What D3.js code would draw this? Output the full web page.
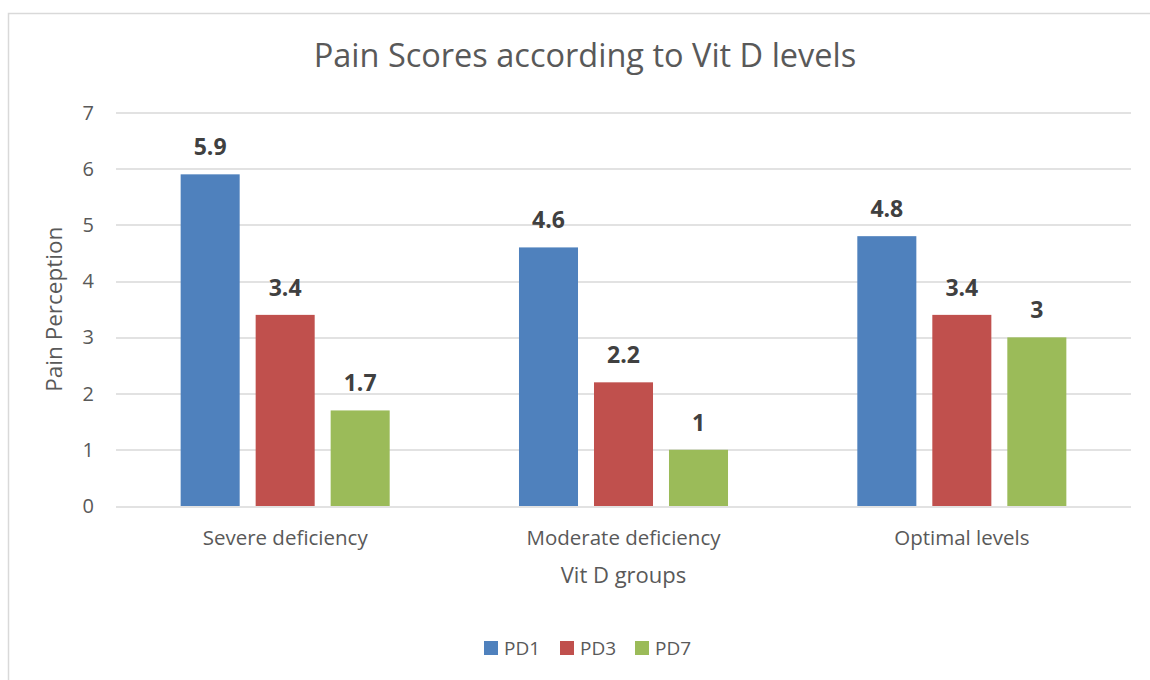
<!DOCTYPE html>
<html>
<head>
<meta charset="utf-8">
<script src="https://cdn.jsdelivr.net/npm/d3@7"></script>
<style>
  body { margin: 0; background: #fff; }
  text { font-family: "Open Sans", "Noto Sans", sans-serif; fill: #595959; }
</style>
</head>
<body>
<script>
//data
var groups = ["Severe deficiency", "Moderate deficiency", "Optimal levels"];
var series = ["PD1", "PD3", "PD7"];
var pd1 = [5.9, 4.6, 4.8];
var pd3 = [3.4, 2.2, 3.4];
var pd7 = [1.7, 1, 3];
var yTicks = [0, 1, 2, 3, 4, 5, 6, 7];
var colors = ["#4F81BD", "#C0504D", "#9BBB59"];

var values = [pd1, pd3, pd7];
var rows = [];
groups.forEach(function (g, gi) {
    series.forEach(function (s, si) {
        rows.push({ group: g, series: s, value: values[si][gi], si: si });
    });
});

var W = 1150, H = 680;
var m = [112.5, 19, 174, 116]; //top right bottom left
var w = W - m[1] - m[3],
    h = H - m[0] - m[2];

var svg = d3.select("body").append("svg")
    .attr("width", W)
    .attr("height", H);

// chart border
svg.append("rect")
    .attr("x", 8.5).attr("y", 13.5)
    .attr("width", W).attr("height", H)
    .attr("fill", "none")
    .attr("stroke", "#d9d9d9")
    .attr("stroke-width", 1.5);

//scales
var x0 = d3.scaleBand().domain(groups).range([0, w]);
var x1 = d3.scaleBand().domain(series)
    .range([0, x0.bandwidth()])
    .paddingInner(0.213)
    .paddingOuter(0.862);
var y = d3.scaleLinear().domain([0, 7]).range([h, 0]);

var g = svg.append("g")
    .attr("transform", "translate(" + m[3] + "," + m[0] + ")");

//grid
g.append("g").selectAll("line")
    .data(yTicks)
    .enter().append("line")
    .attr("x1", 0).attr("x2", w)
    .attr("y1", function (d) { return Math.round(y(d)) + 0.5; })
    .attr("y2", function (d) { return Math.round(y(d)) + 0.5; })
    .attr("stroke", "#d9d9d9")
    .attr("stroke-width", 1.5);

// y tick labels
g.append("g").selectAll("text")
    .data(yTicks)
    .enter().append("text")
    .text(function (d) { return d; })
    .attr("x", -22)
    .attr("y", function (d) { return y(d); })
    .attr("dy", "0.35em")
    .attr("text-anchor", "end")
    .style("font-size", "20px");

//bars
g.append("g").selectAll("rect")
    .data(rows)
    .enter().append("rect")
    .attr("x", function (d) { return x0(d.group) + x1(d.series); })
    .attr("y", function (d) { return y(d.value); })
    .attr("width", x1.bandwidth())
    .attr("height", function (d) { return h - y(d.value); })
    .attr("fill", function (d) { return colors[d.si]; });

//value labels
g.append("g").selectAll("text")
    .data(rows)
    .enter().append("text")
    .text(function (d) { return d.value; })
    .attr("x", function (d) { return x0(d.group) + x1(d.series) + x1.bandwidth() / 2; })
    .attr("y", function (d) { return y(d.value) - 19; })
    .attr("text-anchor", "middle")
    .style("font-size", "23px")
    .style("font-weight", "bold")
    .style("fill", "#404040");

// category labels
g.append("g").selectAll("text")
    .data(groups)
    .enter().append("text")
    .text(function (d) { return d; })
    .attr("x", function (d) { return x0(d) + x0.bandwidth() / 2; })
    .attr("y", h + 39)
    .attr("text-anchor", "middle")
    .style("font-size", "20.5px");

// axis titles
g.append("text")
    .text("Vit D groups")
    .attr("x", w / 2)
    .attr("y", h + 77)
    .attr("text-anchor", "middle")
    .style("font-size", "22px");

g.append("text")
    .text("Pain Perception")
    .attr("transform", "translate(" + (-54) + "," + (h / 2) + ") rotate(-90)")
    .attr("text-anchor", "middle")
    .style("font-size", "22.5px");

// title
svg.append("text")
    .text("Pain Scores according to Vit D levels")
    .attr("x", 585)
    .attr("y", 67)
    .attr("text-anchor", "middle")
    .style("font-size", "32.5px");

// legend
var legend = svg.append("g").selectAll("g")
    .data(series)
    .enter().append("g")
    .attr("transform", function (d, i) { return "translate(" + [484, 560, 635][i] + ",641)"; });
legend.append("rect")
    .attr("width", 14).attr("height", 14)
    .attr("fill", function (d, i) { return colors[i]; });
legend.append("text")
    .text(function (d) { return d; })
    .attr("x", 20)
    .attr("y", 7)
    .attr("dy", "0.35em")
    .style("font-size", "19px");
</script>
</body>
</html>
